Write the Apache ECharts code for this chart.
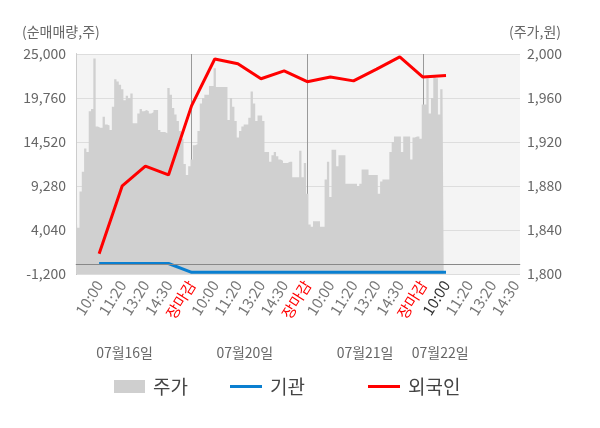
<!DOCTYPE html>
<html>
<head>
<meta charset="utf-8">
<script src="https://cdn.jsdelivr.net/npm/echarts@6/dist/echarts.min.js"></script>
<style>
  html, body { margin: 0; padding: 0; background: #fff; }
  #chart { width: 600px; height: 428px; }
</style>
</head>
<body>
<div id="chart"></div>
<script>
// x축 라벨 (한 칸 = 한 구간, 하루 5칸)
const xLabels = [
  '10:00', '11:20', '13:20', '14:30', '장마감',
  '10:00', '11:20', '13:20', '14:30', '장마감',
  '10:00', '11:20', '13:20', '14:30', '장마감',
  '10:00', '11:20', '13:20', '14:30'
];
const nowLabel = 16;              // 현재 시점 (07월22일 10:00)
const dayTicks = [0, 5, 10, 15];  // 날짜 구분선
const dateLabels = ['07월16일', '07월20일', '07월21일', '07월22일'];
const datePos = [2.1, 7.3, 12.5, 15.75];

// 순매매량 (주)
const foreign = [1200, 9300, 11650, 10600, 18850, 24400, 23850, 22050, 23000, 21700,
                 22250, 21800, 23200, 24650, 22250, 22450];
const institution = [50, 50, 50, 50, -1000, -1000, -1000, -1000, -1000, -1000,
                     -1000, -1000, -1000, -1000, -1000, -1000];

// 주가 (원), 한 칸당 10개
const STEPS = 10;
const price = [
  // 07월16일
  1874, 1842, 1875, 1893, 1914, 1911, 1948, 1950, 1996, 1934,
  1933, 1933, 1943, 1936, 1935, 1931, 1952, 1977, 1975, 1972,
  1968, 1958, 1962, 1960, 1964, 1937, 1937, 1946, 1950, 1948,
  1949, 1948, 1946, 1947, 1949, 1949, 1931, 1929, 1929, 1928,
  1969, 1963, 1951, 1945, 1939, 1930, 1923, 1900, 1890, 1898,
  // 07월20일
  1904, 1917, 1918, 1930, 1955, 1960, 1963, 1963, 1971, 1971,
  1987, 1970, 1970, 1970, 1970, 1970, 1940, 1960, 1952, 1939,
  1924, 1930, 1934, 1936, 1936, 1942, 1966, 1955, 1939, 1944,
  1944, 1939, 1911, 1911, 1902, 1908, 1911, 1907, 1904, 1903,
  1901, 1901, 1902, 1902, 1888, 1888, 1888, 1912, 1888, 1901,
  // 07월21일
  1873, 1845, 1843, 1848, 1848, 1848, 1843, 1843, 1886, 1902,
  1870, 1913, 1913, 1898, 1908, 1908, 1908, 1882, 1882, 1882,
  1882, 1882, 1880, 1882, 1895, 1895, 1895, 1890, 1890, 1890,
  1890, 1873, 1884, 1886, 1886, 1886, 1911, 1920, 1925, 1925,
  1925, 1911, 1925, 1925, 1925, 1904, 1924, 1925, 1925, 1923,
  // 07월22일
  1954, 1954, 1978, 1946, 1960, 1980, 1978, 1945, 1968, 1965
];

const FONT = "'Noto Sans CJK KR', 'Noto Sans', sans-serif";
const labelIdx = xLabels.map((_, i) => i + 1);
const fmt = v => Number(v).toLocaleString('en-US');

const myChart = echarts.init(document.getElementById('chart'));

const legendText = { fontSize: 19, color: '#444', padding: [0, 0, 0, 3] };

const option = {
  animation: false,
  textStyle: { fontFamily: FONT },
  grid: {
    left: 76, right: 80, top: 54, bottom: 154,
    show: true, backgroundColor: '#f4f4f4', borderWidth: 0
  },
  graphic: [
    { type: 'text', left: 22, top: 25, style: { text: '(순매매량,주)', fontSize: 14, fill: '#666', fontFamily: FONT } },
    { type: 'text', left: 509, top: 25, style: { text: '(주가,원)', fontSize: 14, fill: '#666', fontFamily: FONT } }
  ],
  legend: [
    { data: ['주가'], left: 114, top: 377, padding: 0, icon: 'rect', itemWidth: 31, itemHeight: 13,
      textStyle: legendText },
    { data: ['기관'], left: 230, top: 377, padding: 0, icon: 'rect', itemWidth: 32, itemHeight: 3,
      textStyle: legendText },
    { data: ['외국인'], left: 368, top: 377, padding: 0, icon: 'rect', itemWidth: 32, itemHeight: 3,
      textStyle: legendText }
  ],
  xAxis: [
    {
      type: 'value', min: 0, max: 19.2,
      axisLine: { show: true, lineStyle: { color: '#bbb' } },
      axisTick: { show: true, length: 4, customValues: dayTicks, lineStyle: { color: '#999' } },
      splitLine: { show: true, lineStyle: { color: '#999' } },
      axisLabel: {
        customValues: labelIdx,
        rotate: 58, fontSize: 15, margin: 8,
        formatter: v => xLabels[Math.round(v) - 1] || '',
        color: v => {
          const i = Math.round(Number(v));
          if (xLabels[i - 1] === '장마감') return '#ff0000';
          if (i === nowLabel) return '#333';
          return '#777';
        }
      }
    },
    {
      type: 'value', min: 0, max: 19.2, position: 'bottom', offset: 64,
      axisLine: { show: false }, axisTick: { show: false }, splitLine: { show: false },
      axisLabel: {
        customValues: datePos, fontSize: 14, color: '#666', margin: 8,
        formatter: v => {
          const k = datePos.findIndex(p => Math.abs(p - v) < 0.01);
          return k >= 0 ? dateLabels[k] : '';
        }
      }
    }
  ],
  yAxis: [
    {
      type: 'value', min: -1200, max: 25000, interval: 5240, position: 'left',
      axisLine: { show: true, lineStyle: { color: '#999' } },
      axisTick: { show: false },
      splitLine: { lineStyle: { color: '#ddd' } },
      axisLabel: { fontSize: 14, color: '#666', margin: 10, formatter: fmt }
    },
    {
      type: 'value', min: 1800, max: 2000, interval: 40, position: 'right',
      axisLine: { show: true, lineStyle: { color: '#ccc' } },
      axisTick: { show: false },
      splitLine: { show: false },
      axisLabel: { fontSize: 14, color: '#666', margin: 7, formatter: fmt }
    }
  ],
  series: [
    {
      name: '주가', type: 'line', yAxisIndex: 1, step: 'middle',
      data: price.map((p, i) => [i / STEPS, p]),
      showSymbol: false, color: '#cfcfcf',
      lineStyle: { width: 0 },
      areaStyle: { color: '#d0d0d0', opacity: 1, origin: 'start' },
      z: 1
    },
    {
      name: '기관', type: 'line', yAxisIndex: 0,
      data: institution.map((v, i) => [i + 1, v]),
      showSymbol: false, color: '#0a7fd0',
      lineStyle: { width: 3 },
      markLine: {
        silent: true, symbol: 'none', label: { show: false },
        lineStyle: { color: '#888', width: 1, type: 'solid' },
        data: [{ yAxis: 0 }]
      },
      z: 3
    },
    {
      name: '외국인', type: 'line', yAxisIndex: 0,
      data: foreign.map((v, i) => [i + 1, v]),
      showSymbol: false, color: '#ff0000',
      lineStyle: { width: 3 },
      z: 4
    }
  ]
};

myChart.setOption(option);
</script>
</body>
</html>
